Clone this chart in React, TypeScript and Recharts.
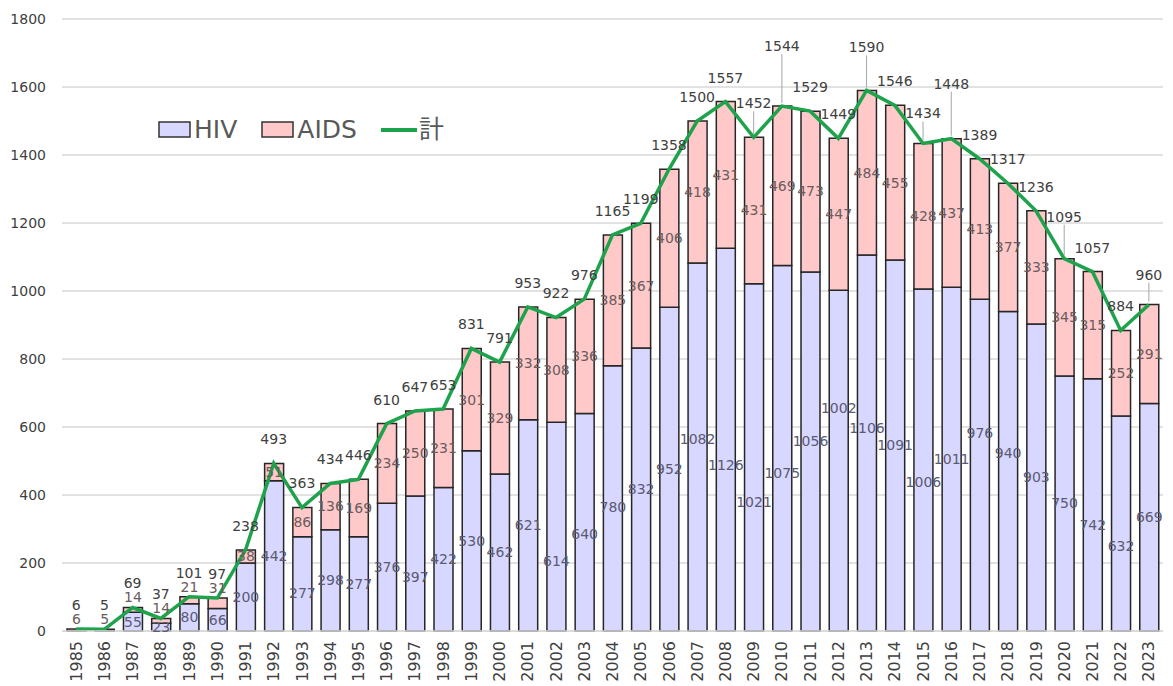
import React from 'react';
import { ComposedChart, Bar, Line, XAxis, YAxis, CartesianGrid, LabelList, Legend } from 'recharts';

const years = [
  '1985', '1986', '1987', '1988', '1989', '1990', '1991', '1992', '1993', '1994',
  '1995', '1996', '1997', '1998', '1999', '2000', '2001', '2002', '2003', '2004',
  '2005', '2006', '2007', '2008', '2009', '2010', '2011', '2012', '2013', '2014',
  '2015', '2016', '2017', '2018', '2019', '2020', '2021', '2022', '2023',
];

const hivCases = [
  0, 0, 55, 23, 80, 66, 200, 442, 277, 298,
  277, 376, 397, 422, 530, 462, 621, 614, 640, 780,
  832, 952, 1082, 1126, 1021, 1075, 1056, 1002, 1106, 1091,
  1006, 1011, 976, 940, 903, 750, 742, 632, 669,
];

const aidsCases = [
  6, 5, 14, 14, 21, 31, 38, 51, 86, 136,
  169, 234, 250, 231, 301, 329, 332, 308, 336, 385,
  367, 406, 418, 431, 431, 469, 473, 447, 484, 455,
  428, 437, 413, 377, 333, 345, 315, 252, 291,
];

const totals = [
  6, 5, 69, 37, 101, 97, 238, 493, 363, 434,
  446, 610, 647, 653, 831, 791, 953, 922, 976, 1165,
  1199, 1358, 1500, 1557, 1452, 1544, 1529, 1449, 1590, 1546,
  1434, 1448, 1389, 1317, 1236, 1095, 1057, 884, 960,
];

const yTicks = [0, 200, 400, 600, 800, 1000, 1200, 1400, 1600, 1800];

// label nudges (px), like the hand-moved labels of the original
const hivLabelShift: Record<string, number> = {
  '1993': 9, '1997': 14, '2002': 34, '2003': 12, '2004': 9, '2007': -8, '2008': 26,
  '2009': 45, '2010': 25, '2011': -10, '2012': -53, '2013': -15, '2015': 22,
  '2017': -32, '2018': -18, '2021': 20, '2022': 23,
};
const totalLabelLift: Record<string, number> = {
  '2009': 10, '2010': 36, '2013': 19, '2015': 6, '2016': 31, '2020': 18, '2023': 6,
};

const data = years.map((year, i) => ({
  year,
  HIV: hivCases[i],
  AIDS: aidsCases[i],
  total: totals[i],
}));

const FONT = '"DejaVu Sans", "Noto Sans CJK JP", sans-serif';
const HIV_FILL = '#d7d7ff';
const AIDS_FILL = '#ffc9c9';
const LINE_COLOR = '#1ea34c';

const YearTick = (props: any) => {
  const { x, y, payload } = props;
  return (
    <text
      x={x}
      y={y}
      dy="0.35em"
      transform={`rotate(-90, ${x}, ${y})`}
      textAnchor="end"
      fontSize={16}
      fontFamily={FONT}
      fill="#404040"
    >
      {payload.value}
    </text>
  );
};

const box = (props: any) => {
  const vb = props.viewBox || {};
  return {
    x: Number(props.x ?? vb.x),
    y: Number(props.y ?? vb.y),
    w: Number(props.width ?? vb.width ?? 0),
    h: Number(props.height ?? vb.height ?? 0),
  };
};

// value here is the year (zero-height bars get no label entry, so index is unreliable)
const HivLabel = (props: any) => {
  const year = String(props.value);
  const v = hivCases[years.indexOf(year)];
  if (!v) return null;
  const { x, y, w, h } = box(props);
  const shift = hivLabelShift[year] || 0;
  return (
    <text x={x + w / 2} y={y + h / 2 + shift} dy="0.35em" textAnchor="middle" fontSize={14} fontFamily={FONT} fill="#5a5a72">
      {v}
    </text>
  );
};

const AidsLabel = (props: any) => {
  const { value } = props;
  const { x, y, w, h } = box(props);
  const small = Math.abs(h) < 12;
  const cy = small ? y - 10 : y + h / 2;
  return (
    <text x={x + w / 2} y={cy} dy="0.35em" textAnchor="middle" fontSize={14} fontFamily={FONT} fill="#6a5c5c">
      {value}
    </text>
  );
};

const TotalLabel = (props: any) => {
  const { value, index } = props;
  const { x, y } = box(props);
  const lift = totalLabelLift[years[index]] || 0;
  const cy = y - 24 - lift;
  return (
    <g>
      {lift > 0 && <line x1={x} y1={y - 3} x2={x} y2={cy + 8} stroke="#a6a6a6" strokeWidth={1} />}
      <text x={x} y={cy} dy="0.35em" textAnchor="middle" fontSize={14} fontFamily={FONT} fill="#404040">
        {value}
      </text>
    </g>
  );
};

const LegendBox = () => {
  const textStyle: React.CSSProperties = { fontSize: 25, color: '#595959', marginRight: 24, lineHeight: '30px' };
  return (
    <div style={{ display: 'flex', alignItems: 'center', fontFamily: FONT }}>
      <svg width={36} height={18}><rect x={1} y={1} width={31} height={15} fill={HIV_FILL} stroke="#333" strokeWidth={1.5} /></svg>
      <span style={textStyle}>HIV</span>
      <svg width={36} height={18}><rect x={1} y={1} width={31} height={15} fill={AIDS_FILL} stroke="#333" strokeWidth={1.5} /></svg>
      <span style={textStyle}>AIDS</span>
      <svg width={38} height={18}><line x1={0} y1={9} x2={36} y2={9} stroke={LINE_COLOR} strokeWidth={4} /></svg>
      <span style={{ ...textStyle, marginRight: 0 }}>計</span>
    </div>
  );
};

export default function App() {
  return (
    <div style={{ position: 'absolute', left: 0, top: 0, width: 1173, height: 686, background: '#fff' }}>
      <ComposedChart
        width={1173}
        height={686}
        data={data}
        margin={{ top: 19, right: 10, bottom: 0, left: 0 }}
        barSize={19}
        style={{ fontFamily: FONT }}
      >
        <CartesianGrid vertical={false} stroke="#d9d9d9" strokeWidth={1.5} />
        <XAxis
          dataKey="year"
          interval={0}
          height={55}
          tickLine={false}
          tickSize={0}
          tickMargin={10}
          axisLine={{ stroke: '#d9d9d9', strokeWidth: 1.5 }}
          tick={<YearTick />}
        />
        <YAxis
          width={62}
          domain={[0, 1800]}
          ticks={yTicks}
          axisLine={false}
          tickLine={false}
          tickSize={6}
          tickMargin={10}
          tick={{ fontSize: 14, fill: '#404040', fontFamily: FONT }}
        />
        <Legend
          layout="horizontal"
          verticalAlign="middle"
          align="center"
          wrapperStyle={{ left: 158, top: 115, width: 'auto' }}
          content={<LegendBox />}
        />
        <Bar dataKey="HIV" stackId="a" fill={HIV_FILL} stroke="#262626" strokeWidth={1.5} isAnimationActive={false}>
          <LabelList dataKey="year" content={<HivLabel />} />
        </Bar>
        <Bar dataKey="AIDS" stackId="a" fill={AIDS_FILL} stroke="#262626" strokeWidth={1.5} isAnimationActive={false}>
          <LabelList dataKey="AIDS" content={<AidsLabel />} />
        </Bar>
        <Line
          type="linear"
          dataKey="total"
          stroke={LINE_COLOR}
          strokeWidth={3.5}
          dot={false}
          activeDot={false}
          isAnimationActive={false}
        >
          <LabelList dataKey="total" content={<TotalLabel />} />
        </Line>
      </ComposedChart>
    </div>
  );
}
